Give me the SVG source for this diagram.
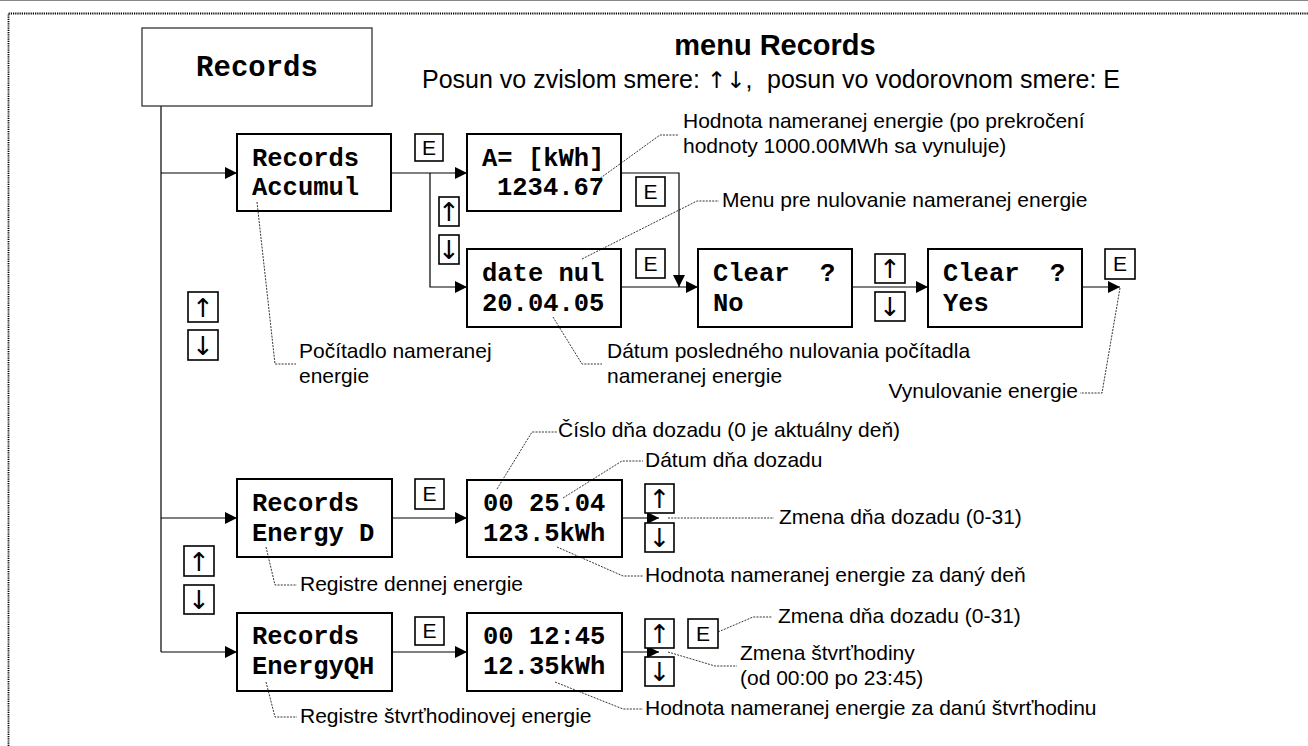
<svg xmlns="http://www.w3.org/2000/svg" width="1308" height="746" viewBox="0 0 1308 746">
<style>
.node{fill:#fff;stroke:#000;stroke-width:2}
.top{fill:#fff;stroke:#333;stroke-width:1.3}
.key{fill:#fff;stroke:#000;stroke-width:1.6}
.mono{font-family:"Liberation Mono","Courier New",monospace;font-weight:bold;font-size:25.5px;fill:#000}
.ann{font-family:"Liberation Sans",Arial,sans-serif;font-size:21px;fill:#000}
.kt{font-family:"Liberation Sans",Arial,sans-serif;font-size:21px;fill:#000;text-anchor:middle}
.ar{font-family:"DejaVu Sans",sans-serif;font-size:26px;fill:#000;text-anchor:middle}
.con{fill:none;stroke:#000;stroke-width:1.2}
.lead{fill:none;stroke:#000;stroke-width:0.8;stroke-dasharray:2 1.2}
</style>
<defs>
<marker id="ah" viewBox="0 0 12 12" refX="12" refY="6" markerWidth="12" markerHeight="12" markerUnits="userSpaceOnUse" orient="auto"><path d="M0,0 L12,6 L0,12 z" fill="#000"/></marker>
</defs>
<rect width="1308" height="746" fill="#fff"/>
<line x1="0" y1="0.5" x2="1308" y2="0.5" stroke="#888" stroke-width="1"/>
<path d="M8.5,746 L8.5,13.5 L1308,13.5" fill="none" stroke="#000" stroke-width="1.8" stroke-dasharray="1.2 1"/>

<g id="title">
<text x="775" y="55" font-family="Liberation Sans,Arial,sans-serif" font-weight="bold" font-size="29" text-anchor="middle">menu Records</text>
<text x="422" y="88" class="ann" style="font-size:25px">Posun vo zvislom smere: <tspan font-family="DejaVu Sans,sans-serif" font-size="23">↑↓</tspan>,</text>
<text x="767" y="88" class="ann" style="font-size:25px">posun vo vodorovnom smere: E</text>
</g>

<g id="connectors">
<path class="con" d="M161,106 L161,652"/>
<path class="con" d="M161,173 L237,173" marker-end="url(#ah)"/>
<path class="con" d="M391,173 L467,173" marker-end="url(#ah)"/>
<path class="con" d="M430,173 L430,287 L467,287" marker-end="url(#ah)"/>
<path class="con" d="M621,173 L679,173 L679,287" marker-end="url(#ah)"/>
<path class="con" d="M621,287 L698,287" marker-end="url(#ah)"/>
<path class="con" d="M852,287 L928,287" marker-end="url(#ah)"/>
<path class="con" d="M1082,287 L1120,287" marker-end="url(#ah)"/>
<path class="con" d="M161,518 L237,518" marker-end="url(#ah)"/>
<path class="con" d="M392,518 L467,518" marker-end="url(#ah)"/>
<path class="con" d="M622,518 L659,518" marker-end="url(#ah)"/>
<path class="con" d="M161,652 L237,652" marker-end="url(#ah)"/>
<path class="con" d="M392,652 L467,652" marker-end="url(#ah)"/>
<path class="con" d="M622,652 L659,652" marker-end="url(#ah)"/>
</g>

<g id="records">
<rect class="top" x="142" y="28" width="230" height="78"/>
<text x="257" y="76" class="mono" style="font-size:29px" text-anchor="middle">Records</text>
</g>
<g id="accumul">
<rect class="node" x="237" y="134" width="154" height="77"/>
<text x="252" y="165.5" class="mono">Records</text>
<text x="252" y="195" class="mono">Accumul</text>
</g>
<g id="akwh">
<rect class="node" x="467" y="134" width="154" height="77"/>
<text x="482" y="165.5" class="mono">A= [kWh]</text>
<text x="497" y="195" class="mono">1234.67</text>
</g>
<g id="datenul">
<rect class="node" x="467" y="249" width="154" height="78"/>
<text x="482" y="280.5" class="mono">date nul</text>
<text x="482" y="311" class="mono">20.04.05</text>
</g>
<g id="clearno">
<rect class="node" x="698" y="249" width="154" height="78"/>
<text x="713" y="280.5" class="mono" xml:space="preserve">Clear  ?</text>
<text x="713" y="311" class="mono">No</text>
</g>
<g id="clearyes">
<rect class="node" x="928" y="249" width="154" height="78"/>
<text x="943" y="280.5" class="mono" xml:space="preserve">Clear  ?</text>
<text x="943" y="311" class="mono">Yes</text>
</g>
<g id="energyd">
<rect class="node" x="237" y="479" width="155" height="78"/>
<text x="252" y="511" class="mono">Records</text>
<text x="252" y="540.5" class="mono">Energy D</text>
</g>
<g id="day">
<rect class="node" x="467" y="480" width="155" height="77"/>
<text x="483" y="511" class="mono">00 25.04</text>
<text x="483" y="540.5" class="mono">123.5kWh</text>
</g>
<g id="energyqh">
<rect class="node" x="237" y="613" width="155" height="78"/>
<text x="252" y="644" class="mono">Records</text>
<text x="252" y="674" class="mono">EnergyQH</text>
</g>
<g id="qh">
<rect class="node" x="467" y="613" width="155" height="78"/>
<text x="483" y="644" class="mono">00 12:45</text>
<text x="483" y="674" class="mono">12.35kWh</text>
</g>

<g id="keys">
<rect class="key" x="415" y="134" width="28" height="27"/><text class="kt" x="429" y="155">E</text>
<rect class="key" x="636" y="177" width="29" height="29"/><text class="kt" x="650.5" y="199">E</text>
<rect class="key" x="636" y="249" width="29" height="29"/><text class="kt" x="650.5" y="271">E</text>
<rect class="key" x="1105" y="249" width="30" height="30"/><text class="kt" x="1120" y="271">E</text>
<rect class="key" x="415" y="479" width="29" height="30"/><text class="kt" x="429.5" y="501">E</text>
<rect class="key" x="415" y="617" width="29" height="28"/><text class="kt" x="429.5" y="638">E</text>
<rect class="key" x="688" y="619" width="30" height="29"/><text class="kt" x="703" y="641">E</text>

<rect class="key" x="439" y="197" width="20" height="29"/><text class="ar" x="449" y="221">↑</text>
<rect class="key" x="439" y="235" width="20" height="29"/><text class="ar" x="449" y="259">↓</text>
<rect class="key" x="875" y="254" width="30" height="29"/><text class="ar" x="890" y="278">↑</text>
<rect class="key" x="875" y="292" width="30" height="29"/><text class="ar" x="890" y="316">↓</text>
<rect class="key" x="188" y="292" width="30" height="30"/><text class="ar" x="203" y="316.5">↑</text>
<rect class="key" x="188" y="330" width="30" height="30"/><text class="ar" x="203" y="354.5">↓</text>
<rect class="key" x="184" y="546" width="30" height="30"/><text class="ar" x="199" y="570.5">↑</text>
<rect class="key" x="184" y="585" width="30" height="29"/><text class="ar" x="199" y="609">↓</text>
<rect class="key" x="645" y="484" width="29" height="29"/><text class="ar" x="659.5" y="508">↑</text>
<rect class="key" x="645" y="523" width="29" height="29"/><text class="ar" x="659.5" y="547">↓</text>
<rect class="key" x="645" y="619" width="29" height="29"/><text class="ar" x="659.5" y="643">↑</text>
<rect class="key" x="645" y="657" width="29" height="29"/><text class="ar" x="659.5" y="681">↓</text>
</g>

<g id="annotations">
<path class="lead" d="M595,182 L660,135 L679,135"/>
<text class="ann" x="683" y="128">Hodnota nameranej energie (po prekročení</text>
<text class="ann" x="683" y="153">hodnoty 1000.00MWh sa vynuluje)</text>
<path class="lead" d="M582,259 L697,201 L719,201"/>
<text class="ann" x="722" y="207">Menu pre nulovanie nameranej energie</text>
<path class="lead" d="M257,202 L275,364 L296,364"/>
<text class="ann" x="299" y="358">Počítadlo nameranej</text>
<text class="ann" x="299" y="383">energie</text>
<path class="lead" d="M553,317 L582,364 L602,364"/>
<text class="ann" x="607" y="358">Dátum posledného nulovania počítadla</text>
<text class="ann" x="607" y="383">nameranej energie</text>
<path class="lead" d="M1120,288 L1102,393 L1080,393"/>
<text class="ann" x="1078" y="398" text-anchor="end">Vynulovanie energie</text>
<path class="lead" d="M497,489 L532,432 L557,432"/>
<text class="ann" x="558" y="437">Číslo dňa dozadu (0 je aktuálny deň)</text>
<path class="lead" d="M563,498 L622,461 L643,461"/>
<text class="ann" x="645" y="467">Dátum dňa dozadu</text>
<path class="lead" d="M668,518 L774,518"/>
<text class="ann" x="779" y="524">Zmena dňa dozadu (0-31)</text>
<path class="lead" d="M557,547 L623,576 L643,576"/>
<text class="ann" x="645" y="582">Hodnota nameranej energie za daný deň</text>
<path class="lead" d="M266,547 L275,585 L297,585"/>
<text class="ann" x="300" y="591">Registre dennej energie</text>
<path class="lead" d="M718,632 L753,617 L772,617"/>
<text class="ann" x="778" y="623">Zmena dňa dozadu (0-31)</text>
<path class="lead" d="M668,652 L715,666 L737,666"/>
<text class="ann" x="740" y="660">Zmena štvrťhodiny</text>
<text class="ann" x="740" y="685">(od 00:00 po 23:45)</text>
<path class="lead" d="M555,682 L623,709 L643,709"/>
<text class="ann" x="645" y="715">Hodnota nameranej energie za danú štvrťhodinu</text>
<path class="lead" d="M266,682 L275,717 L297,717"/>
<text class="ann" x="300" y="723">Registre štvrťhodinovej energie</text>
</g>
</svg>
